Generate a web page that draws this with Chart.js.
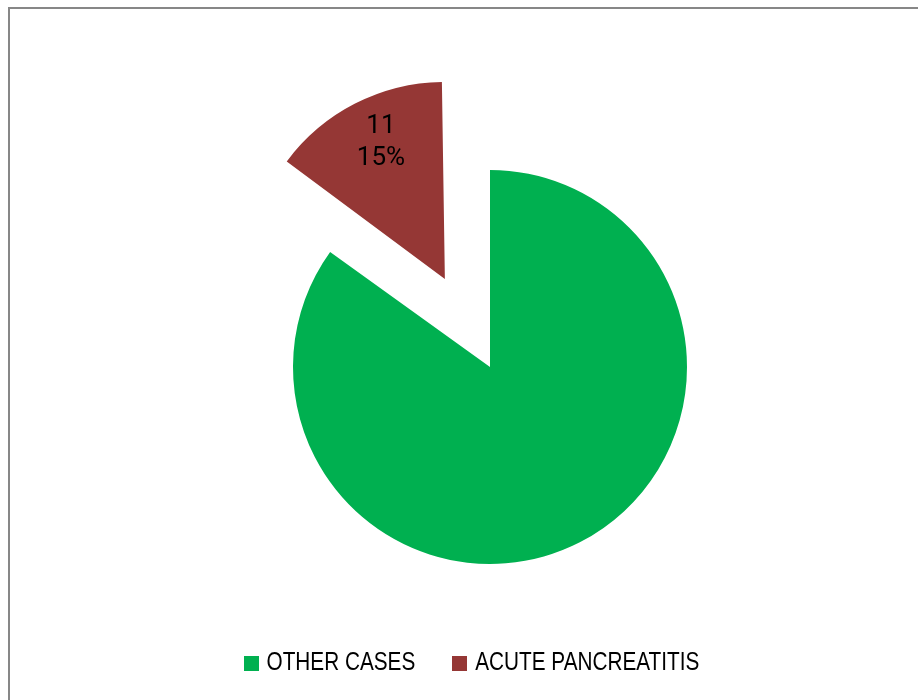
<!DOCTYPE html>
<html>
<head>
<meta charset="utf-8">
<script src="https://cdn.jsdelivr.net/npm/chart.js@4.4.1/dist/chart.umd.min.js"></script>
<style>
  html, body { margin: 0; padding: 0; background: #fff; }
  #wrap { position: relative; width: 918px; height: 700px; overflow: hidden; }
  #frame { position: absolute; left: 8px; top: 7px; width: 2000px; height: 2000px;
           border-left: 2px solid #878787; border-top: 2px solid #878787; }
  canvas { position: absolute; left: 0; top: 0; }
</style>
</head>
<body>
<div id="wrap">
  <div id="frame"></div>
  <canvas id="c" width="918" height="700"></canvas>
</div>
<script>
// Case breakdown
const categories = ['OTHER CASES', 'ACUTE PANCREATITIS'];
const caseCounts = [62, 11];
const sliceColors = ['#00B050', '#953735'];
// how far each slice is pulled out of the pie (px)
const explodeDistance = [0, 99];
// which slices carry a value / percent label
const labelledSlices = [false, true];

const total = caseCounts.reduce((a, b) => a + b, 0);

// Chart.js grows the radius of an offset arc a little; keep every slice
// at the pie's own radius so the exploded piece stays the same size.
const keepRadius = {
  id: 'keepRadius',
  afterDatasetsUpdate(chart) {
    const meta = chart.getDatasetMeta(0);
    const R = meta.controller.outerRadius;
    meta.data.forEach(arc => {
      const off = (arc.options.offset || 0) / 4;
      const fix = 1 - Math.sin(Math.min(Math.PI, arc.circumference || 0));
      arc.outerRadius = R - off * fix;
    });
  }
};

// Value + percentage labels inside the exploded slice
const sliceLabels = {
  id: 'sliceLabels',
  afterDatasetsDraw(chart) {
    const ctx = chart.ctx;
    const meta = chart.getDatasetMeta(0);
    const R = meta.controller.outerRadius;
    meta.data.forEach((arc, i) => {
      if (!labelledSlices[i]) return;
      const mid = (arc.startAngle + arc.endAngle) / 2;
      const dist = explodeDistance[i] + R * 0.79;
      const x = arc.x + Math.cos(mid) * dist + 7;
      const y = arc.y + Math.sin(mid) * dist + 2;
      const pct = Math.round(caseCounts[i] / total * 100) + '%';
      ctx.save();
      ctx.fillStyle = '#000';
      ctx.font = '26px Roboto';
      ctx.textAlign = 'center';
      ctx.textBaseline = 'middle';
      ctx.fillText(String(caseCounts[i]), x, y - 16);
      ctx.fillText(pct, x, y + 16);
      ctx.restore();
    });
  }
};

// Legend row under the pie (condensed sans)
const bottomLegend = {
  id: 'bottomLegend',
  afterDraw(chart) {
    const ctx = chart.ctx;
    const box = 15, gapText = 8, gapItem = 37, cx = 471.4, cy = 663.5, squeeze = 0.83;
    ctx.save();
    ctx.font = '25px "Liberation Sans", Arial, sans-serif';
    ctx.textBaseline = 'middle';
    ctx.textAlign = 'left';
    const widths = chart.data.labels.map(t => ctx.measureText(t).width * squeeze);
    const full = widths.reduce((s, w) => s + box + gapText + w, 0) + gapItem * (widths.length - 1);
    let x = cx - full / 2;
    chart.data.labels.forEach((t, i) => {
      ctx.fillStyle = chart.data.datasets[0].backgroundColor[i];
      ctx.fillRect(Math.round(x), Math.round(cy - box / 2), box, box);
      ctx.fillStyle = '#000';
      ctx.save();
      ctx.translate(x + box + gapText, cy);
      ctx.scale(squeeze, 1);
      ctx.fillText(t, 0, 0);
      ctx.restore();
      x += box + gapText + widths[i] + gapItem;
    });
    ctx.restore();
  }
};

new Chart(document.getElementById('c'), {
  type: 'pie',
  data: {
    labels: categories,
    datasets: [{
      data: caseCounts,
      backgroundColor: sliceColors,
      borderWidth: 0,
      offset: explodeDistance.map(d => d * 4),
      hoverOffset: 0
    }]
  },
  options: {
    responsive: false,
    animation: false,
    events: [],
    radius: 197,
    layout: { padding: { left: 62, right: 0, top: 34, bottom: 0 } },
    plugins: {
      legend: { display: false },
      tooltip: { enabled: false }
    }
  },
  plugins: [keepRadius, sliceLabels, bottomLegend]
});
</script>
</body>
</html>
